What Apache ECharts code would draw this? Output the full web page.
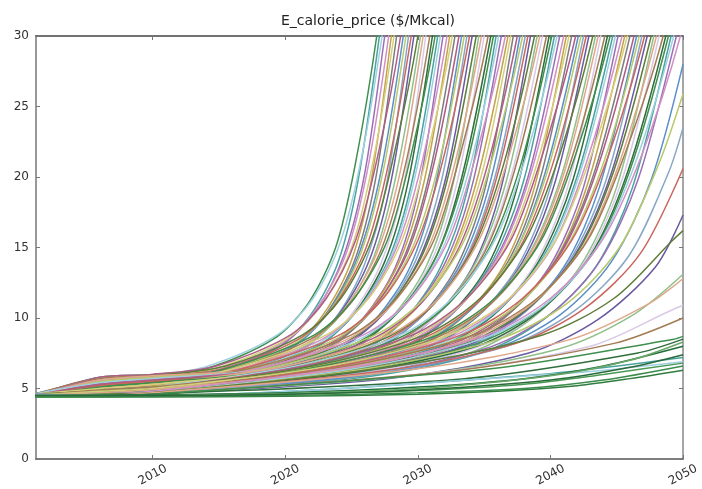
<!DOCTYPE html>
<html>
<head>
<meta charset="utf-8">
<script src="https://cdn.jsdelivr.net/npm/echarts@6/dist/echarts.min.js"></script>
<style>
  html, body { margin: 0; padding: 0; background: #fff; }
  #chart { width: 702px; height: 489px; }
</style>
</head>
<body>
<div id="chart"></div>
<script>
// Simulated calorie price runs, [year, $/Mkcal] pairs. Runs that blow past 30 are clipped by the axis.
const runsA1 = [
  [[2001,4.5],[2006,5.8],[2010,6.0],[2014.0,6.4],[2019.1,8.5],[2021.7,11.0],[2023.8,15.0],[2025.3,21.0],[2026.9,30],[2028.2,40]],
  [[2001,4.6],[2006,5.6],[2010,5.9],[2014.2,6.6],[2019.4,8.8],[2022.1,11.4],[2024.2,15.5],[2025.8,21.6],[2027.3,30],[2028.7,40]],
  [[2001,4.4],[2006,5.7],[2010,5.9],[2014.4,6.2],[2019.7,8.2],[2022.4,10.7],[2024.6,14.6],[2026.2,20.5],[2027.8,30],[2029.1,40]],
  [[2001,4.5],[2006,5.4],[2010,5.7],[2014.6,6.4],[2020.1,8.5],[2022.8,11.0],[2025.0,15.0],[2026.6,21.0],[2028.2,30],[2029.6,40]],
  [[2001,4.5],[2006,5.8],[2010,6.0],[2014.8,6.6],[2020.4,8.8],[2023.1,11.4],[2025.3,15.5],[2027.0,21.6],[2028.7,30],[2030.0,40]],
  [[2001,4.6],[2006,5.3],[2010,5.6],[2015.1,6.2],[2020.7,8.2],[2023.5,10.7],[2025.7,14.6],[2027.4,20.5],[2029.1,30],[2030.5,40]],
  [[2001,4.4],[2006,5.5],[2010,5.8],[2015.3,6.4],[2021.0,8.5],[2023.8,11.0],[2026.1,15.0],[2027.8,21.0],[2029.5,30],[2031.0,40]],
  [[2001,4.5],[2006,5.6],[2010,5.9],[2015.5,6.6],[2021.3,8.8],[2024.2,11.4],[2026.5,15.5],[2028.2,21.6],[2030.0,30],[2031.4,40]],
  [[2001,4.5],[2006,5.2],[2010,5.5],[2015.7,6.2],[2021.6,8.2],[2024.5,10.7],[2026.9,14.6],[2028.7,20.5],[2030.4,30],[2031.9,40]],
  [[2001,4.6],[2006,5.7],[2010,5.9],[2015.9,6.4],[2021.9,8.5],[2024.9,11.0],[2027.3,15.0],[2029.1,21.0],[2030.9,30],[2032.4,40]],
  [[2001,4.4],[2006,5.0],[2010,5.3],[2016.2,6.6],[2022.2,8.8],[2025.2,11.4],[2027.7,15.5],[2029.5,21.6],[2031.3,30],[2032.8,40]],
  [[2001,4.5],[2006,5.4],[2010,5.7],[2016.4,6.2],[2022.5,8.2],[2025.6,10.7],[2028.1,14.6],[2029.9,20.5],[2031.7,30],[2033.3,40]],
  [[2001,4.5],[2006,5.6],[2010,5.8],[2016.6,6.4],[2022.8,8.5],[2025.9,11.0],[2028.4,15.0],[2030.3,21.0],[2032.2,30],[2033.7,40]],
  [[2001,4.6],[2006,4.9],[2010,5.2],[2016.8,6.6],[2023.1,8.8],[2026.3,11.4],[2028.8,15.5],[2030.7,21.6],[2032.6,30],[2034.2,40]],
  [[2001,4.4],[2006,5.3],[2010,5.6],[2017.0,6.2],[2023.4,8.2],[2026.6,10.7],[2029.2,14.6],[2031.1,20.5],[2033.1,30],[2034.7,40]],
  [[2001,4.5],[2006,5.5],[2010,5.8],[2017.3,6.4],[2023.8,8.5],[2027.0,11.0],[2029.6,15.0],[2031.6,21.0],[2033.5,30],[2035.1,40]],
  [[2001,4.5],[2006,4.8],[2010,5.1],[2017.5,6.6],[2024.1,8.8],[2027.4,11.4],[2030.0,15.5],[2032.0,21.6],[2033.9,30],[2035.6,40]],
  [[2001,4.6],[2006,5.2],[2010,5.5],[2017.7,6.2],[2024.4,8.2],[2027.7,10.7],[2030.4,14.6],[2032.4,20.5],[2034.4,30],[2036.1,40]]
];

const runsA2 = [
  [[2001,4.4],[2006,5.6],[2010,5.9],[2017.9,6.4],[2024.7,8.5],[2028.1,11.0],[2030.8,15.0],[2032.8,21.0],[2034.8,30],[2036.5,40]],
  [[2001,4.5],[2006,4.9],[2010,5.2],[2018.1,6.6],[2025.0,8.8],[2028.4,11.4],[2031.2,15.5],[2033.2,21.6],[2035.3,30],[2037.0,40]],
  [[2001,4.5],[2006,5.1],[2010,5.4],[2018.4,6.2],[2025.3,8.2],[2028.8,10.7],[2031.5,14.6],[2033.6,20.5],[2035.7,30],[2037.4,40]],
  [[2001,4.6],[2006,5.4],[2010,5.7],[2018.6,6.4],[2025.6,8.5],[2029.1,11.0],[2031.9,15.0],[2034.0,21.0],[2036.1,30],[2037.9,40]],
  [[2001,4.4],[2006,4.7],[2010,5.0],[2018.8,6.6],[2025.9,8.8],[2029.5,11.4],[2032.3,15.5],[2034.4,21.6],[2036.6,30],[2038.4,40]],
  [[2001,4.5],[2006,5.0],[2010,5.3],[2019.0,6.2],[2026.2,8.2],[2029.8,10.7],[2032.7,14.6],[2034.9,20.5],[2037.0,30],[2038.8,40]],
  [[2001,4.5],[2006,5.3],[2010,5.6],[2019.2,6.4],[2026.5,8.5],[2030.2,11.0],[2033.1,15.0],[2035.3,21.0],[2037.5,30],[2039.3,40]],
  [[2001,4.6],[2006,4.8],[2010,5.1],[2019.5,6.6],[2026.8,8.8],[2030.5,11.4],[2033.5,15.5],[2035.7,21.6],[2037.9,30],[2039.7,40]],
  [[2001,4.4],[2006,5.2],[2010,5.5],[2019.7,6.2],[2027.1,8.2],[2030.9,10.7],[2033.9,14.6],[2036.1,20.5],[2038.3,30],[2040.2,40]],
  [[2001,4.5],[2006,4.7],[2010,5.0],[2019.9,6.4],[2027.4,8.5],[2031.2,11.0],[2034.2,15.0],[2036.5,21.0],[2038.8,30],[2040.7,40]],
  [[2001,4.5],[2006,5.0],[2010,5.3],[2020.1,6.6],[2027.8,8.8],[2031.6,11.4],[2034.6,15.5],[2036.9,21.6],[2039.2,30],[2041.1,40]],
  [[2001,4.6],[2006,4.6],[2010,4.9],[2020.3,6.2],[2028.1,8.2],[2031.9,10.7],[2035.0,14.6],[2037.3,20.5],[2039.7,30],[2041.6,40]],
  [[2001,4.4],[2006,5.1],[2010,5.4],[2020.6,6.4],[2028.4,8.5],[2032.3,11.0],[2035.4,15.0],[2037.8,21.0],[2040.1,30],[2042.1,40]],
  [[2001,4.5],[2006,4.8],[2010,5.1],[2020.8,6.6],[2028.7,8.8],[2032.6,11.4],[2035.8,15.5],[2038.2,21.6],[2040.5,30],[2042.5,40]],
  [[2001,4.5],[2006,4.6],[2010,4.9],[2021.0,6.2],[2029.0,8.2],[2033.0,10.7],[2036.2,14.6],[2038.6,20.5],[2041.0,30],[2043.0,40]],
  [[2001,4.6],[2006,5.0],[2010,5.3],[2021.2,6.4],[2029.3,8.5],[2033.3,11.0],[2036.6,15.0],[2039.0,21.0],[2041.4,30],[2043.4,40]],
  [[2001,4.4],[2006,4.7],[2010,5.0],[2021.4,6.6],[2029.6,8.8],[2033.7,11.4],[2037.0,15.5],[2039.4,21.6],[2041.9,30],[2043.9,40]],
  [[2001,4.5],[2006,4.9],[2010,5.1],[2021.7,6.2],[2029.9,8.2],[2034.0,10.7],[2037.3,14.6],[2039.8,20.5],[2042.3,30],[2044.4,40]]
];

const runsA3 = [
  [[2001,4.5],[2006,4.6],[2010,4.8],[2021.9,6.4],[2030.2,8.5],[2034.4,11.0],[2037.7,15.0],[2040.2,21.0],[2042.7,30],[2044.8,40]],
  [[2001,4.6],[2006,4.8],[2010,5.0],[2022.1,6.6],[2030.5,8.8],[2034.7,11.4],[2038.1,15.5],[2040.7,21.6],[2043.2,30],[2045.3,40]],
  [[2001,4.4],[2006,4.6],[2010,4.8],[2022.3,6.2],[2030.8,8.2],[2035.1,10.7],[2038.5,14.6],[2041.1,20.5],[2043.6,30],[2045.8,40]],
  [[2001,4.5],[2006,4.9],[2010,5.1],[2022.5,6.4],[2031.1,8.5],[2035.5,11.0],[2038.9,15.0],[2041.5,21.0],[2044.1,30],[2046.2,40]],
  [[2001,4.5],[2006,4.5],[2010,4.7],[2022.8,6.6],[2031.5,8.8],[2035.8,11.4],[2039.3,15.5],[2041.9,21.6],[2044.5,30],[2046.7,40]],
  [[2001,4.6],[2006,4.7],[2010,4.9],[2023.0,6.2],[2031.8,8.2],[2036.2,10.7],[2039.7,14.6],[2042.3,20.5],[2044.9,30],[2047.1,40]],
  [[2001,4.4],[2006,4.6],[2010,4.8],[2023.2,6.4],[2032.1,8.5],[2036.5,11.0],[2040.1,15.0],[2042.7,21.0],[2045.4,30],[2047.6,40]],
  [[2001,4.5],[2006,4.8],[2010,5.0],[2023.4,6.6],[2032.4,8.8],[2036.9,11.4],[2040.4,15.5],[2043.1,21.6],[2045.8,30],[2048.1,40]],
  [[2001,4.5],[2006,4.5],[2010,4.7],[2023.6,6.2],[2032.7,8.2],[2037.2,10.7],[2040.8,14.6],[2043.5,20.5],[2046.3,30],[2048.5,40]],
  [[2001,4.6],[2006,4.7],[2010,4.9],[2023.9,6.4],[2033.0,8.5],[2037.6,11.0],[2041.2,15.0],[2044.0,21.0],[2046.7,30],[2049.0,40]],
  [[2001,4.4],[2006,4.6],[2010,4.8],[2024.1,6.6],[2033.3,8.8],[2037.9,11.4],[2041.6,15.5],[2044.4,21.6],[2047.1,30],[2049.5,40]],
  [[2001,4.5],[2006,4.5],[2010,4.7],[2024.3,6.2],[2033.6,8.2],[2038.3,10.7],[2042.0,14.6],[2044.8,20.5],[2047.6,30],[2049.9,40]],
  [[2001,4.5],[2006,4.7],[2010,4.9],[2024.5,6.4],[2033.9,8.5],[2038.6,11.0],[2042.4,15.0],[2045.2,21.0],[2048.0,30],[2050.4,40]],
  [[2001,4.6],[2006,4.5],[2010,4.7],[2024.7,6.6],[2034.2,8.8],[2039.0,11.4],[2042.8,15.5],[2045.6,21.6],[2048.5,30],[2050.8,40]],
  [[2001,4.4],[2006,4.6],[2010,4.8],[2025.0,6.2],[2034.5,8.2],[2039.3,10.7],[2043.2,14.6],[2046.0,20.5],[2048.9,30],[2051.3,40]],
  [[2001,4.5],[2006,4.5],[2010,4.7],[2025.2,6.4],[2034.8,8.5],[2039.7,11.0],[2043.5,15.0],[2046.4,21.0],[2049.3,30],[2051.8,40]],
  [[2001,4.5],[2006,4.6],[2010,4.8],[2025.4,6.6],[2035.2,8.8],[2040.0,11.4],[2043.9,15.5],[2046.9,21.6],[2049.8,30],[2052.2,40]]
];

const runsB1 = [
  [[2001,4.5],[2006,5.5],[2010,5.7],[2014.1,5.9],[2019.3,7.8],[2021.9,10.2],[2024.0,14.0],[2025.5,19.8],[2027.1,30],[2028.4,40]],
  [[2001,4.6],[2006,5.2],[2010,5.4],[2014.3,6.1],[2019.6,8.0],[2022.3,10.5],[2024.4,14.4],[2026.0,20.3],[2027.5,30],[2028.9,40]],
  [[2001,4.4],[2006,5.3],[2010,5.5],[2014.5,5.7],[2019.9,7.5],[2022.6,9.9],[2024.8,13.6],[2026.4,19.3],[2028.0,30],[2029.3,40]],
  [[2001,4.5],[2006,5.6],[2010,5.7],[2014.7,5.9],[2020.3,7.8],[2023.0,10.2],[2025.2,14.0],[2026.8,19.8],[2028.4,30],[2029.8,40]],
  [[2001,4.5],[2006,5.0],[2010,5.2],[2014.9,6.1],[2020.6,8.0],[2023.3,10.5],[2025.5,14.4],[2027.2,20.3],[2028.9,30],[2030.2,40]],
  [[2001,4.6],[2006,5.4],[2010,5.5],[2015.2,5.7],[2020.9,7.5],[2023.7,9.9],[2025.9,13.6],[2027.6,19.3],[2029.3,30],[2030.7,40]],
  [[2001,4.4],[2006,5.1],[2010,5.3],[2015.4,5.9],[2021.2,7.8],[2024.0,10.2],[2026.3,14.0],[2028.0,19.8],[2029.7,30],[2031.2,40]],
  [[2001,4.5],[2006,5.5],[2010,5.7],[2015.6,6.1],[2021.5,8.0],[2024.4,10.5],[2026.7,14.4],[2028.4,20.3],[2030.2,30],[2031.6,40]],
  [[2001,4.5],[2006,4.9],[2010,5.1],[2015.8,5.7],[2021.8,7.5],[2024.7,9.9],[2027.1,13.6],[2028.9,19.3],[2030.6,30],[2032.1,40]],
  [[2001,4.6],[2006,5.3],[2010,5.5],[2016.0,5.9],[2022.1,7.8],[2025.1,10.2],[2027.5,14.0],[2029.3,19.8],[2031.1,30],[2032.6,40]],
  [[2001,4.4],[2006,4.8],[2010,5.1],[2016.3,6.1],[2022.4,8.0],[2025.4,10.5],[2027.9,14.4],[2029.7,20.3],[2031.5,30],[2033.0,40]],
  [[2001,4.5],[2006,5.2],[2010,5.4],[2016.5,5.7],[2022.7,7.5],[2025.8,9.9],[2028.3,13.6],[2030.1,19.3],[2031.9,30],[2033.5,40]],
  [[2001,4.5],[2006,4.7],[2010,5.0],[2016.7,5.9],[2023.0,7.8],[2026.1,10.2],[2028.6,14.0],[2030.5,19.8],[2032.4,30],[2033.9,40]],
  [[2001,4.6],[2006,5.3],[2010,5.5],[2016.9,6.1],[2023.3,8.0],[2026.5,10.5],[2029.0,14.4],[2030.9,20.3],[2032.8,30],[2034.4,40]],
  [[2001,4.4],[2006,4.6],[2010,4.9],[2017.1,5.7],[2023.6,7.5],[2026.8,9.9],[2029.4,13.6],[2031.3,19.3],[2033.3,30],[2034.9,40]],
  [[2001,4.5],[2006,5.0],[2010,5.2],[2017.4,5.9],[2024.0,7.8],[2027.2,10.2],[2029.8,14.0],[2031.8,19.8],[2033.7,30],[2035.3,40]],
  [[2001,4.5],[2006,4.8],[2010,5.0],[2017.6,6.1],[2024.3,8.0],[2027.6,10.5],[2030.2,14.4],[2032.2,20.3],[2034.1,30],[2035.8,40]],
  [[2001,4.6],[2006,4.6],[2010,4.8],[2017.8,5.7],[2024.6,7.5],[2027.9,9.9],[2030.6,13.6],[2032.6,19.3],[2034.6,30],[2036.3,40]]
];

const runsB2 = [
  [[2001,4.4],[2006,5.1],[2010,5.3],[2018.0,5.9],[2024.9,7.8],[2028.3,10.2],[2031.0,14.0],[2033.0,19.8],[2035.0,30],[2036.7,40]],
  [[2001,4.5],[2006,4.7],[2010,5.0],[2018.2,6.1],[2025.2,8.0],[2028.6,10.5],[2031.4,14.4],[2033.4,20.3],[2035.5,30],[2037.2,40]],
  [[2001,4.5],[2006,4.9],[2010,5.1],[2018.5,5.7],[2025.5,7.5],[2029.0,9.9],[2031.7,13.6],[2033.8,19.3],[2035.9,30],[2037.6,40]],
  [[2001,4.6],[2006,4.6],[2010,4.9],[2018.7,5.9],[2025.8,7.8],[2029.3,10.2],[2032.1,14.0],[2034.2,19.8],[2036.3,30],[2038.1,40]],
  [[2001,4.4],[2006,5.0],[2010,5.2],[2018.9,6.1],[2026.1,8.0],[2029.7,10.5],[2032.5,14.4],[2034.6,20.3],[2036.8,30],[2038.6,40]],
  [[2001,4.5],[2006,4.6],[2010,4.8],[2019.1,5.7],[2026.4,7.5],[2030.0,9.9],[2032.9,13.6],[2035.1,19.3],[2037.2,30],[2039.0,40]],
  [[2001,4.5],[2006,4.8],[2010,5.1],[2019.3,5.9],[2026.7,7.8],[2030.4,10.2],[2033.3,14.0],[2035.5,19.8],[2037.7,30],[2039.5,40]],
  [[2001,4.6],[2006,4.5],[2010,4.7],[2019.6,6.1],[2027.0,8.0],[2030.7,10.5],[2033.7,14.4],[2035.9,20.3],[2038.1,30],[2039.9,40]],
  [[2001,4.4],[2006,4.9],[2010,5.1],[2019.8,5.7],[2027.3,7.5],[2031.1,9.9],[2034.1,13.6],[2036.3,19.3],[2038.5,30],[2040.4,40]],
  [[2001,4.5],[2006,4.6],[2010,4.8],[2020.0,5.9],[2027.6,7.8],[2031.4,10.2],[2034.4,14.0],[2036.7,19.8],[2039.0,30],[2040.9,40]],
  [[2001,4.5],[2006,4.7],[2010,5.0],[2020.2,6.1],[2028.0,8.0],[2031.8,10.5],[2034.8,14.4],[2037.1,20.3],[2039.4,30],[2041.3,40]],
  [[2001,4.6],[2006,4.5],[2010,4.7],[2020.4,5.7],[2028.3,7.5],[2032.1,9.9],[2035.2,13.6],[2037.5,19.3],[2039.9,30],[2041.8,40]],
  [[2001,4.4],[2006,4.8],[2010,5.0],[2020.7,5.9],[2028.6,7.8],[2032.5,10.2],[2035.6,14.0],[2038.0,19.8],[2040.3,30],[2042.3,40]],
  [[2001,4.5],[2006,4.5],[2010,4.7],[2020.9,6.1],[2028.9,8.0],[2032.8,10.5],[2036.0,14.4],[2038.4,20.3],[2040.7,30],[2042.7,40]],
  [[2001,4.5],[2006,4.7],[2010,4.9],[2021.1,5.7],[2029.2,7.5],[2033.2,9.9],[2036.4,13.6],[2038.8,19.3],[2041.2,30],[2043.2,40]],
  [[2001,4.6],[2006,4.5],[2010,4.6],[2021.3,5.9],[2029.5,7.8],[2033.5,10.2],[2036.8,14.0],[2039.2,19.8],[2041.6,30],[2043.6,40]],
  [[2001,4.4],[2006,4.6],[2010,4.8],[2021.5,6.1],[2029.8,8.0],[2033.9,10.5],[2037.2,14.4],[2039.6,20.3],[2042.1,30],[2044.1,40]],
  [[2001,4.5],[2006,4.5],[2010,4.7],[2021.8,5.7],[2030.1,7.5],[2034.2,9.9],[2037.5,13.6],[2040.0,19.3],[2042.5,30],[2044.6,40]]
];

const runsB3 = [
  [[2001,4.5],[2006,4.7],[2010,4.9],[2022.0,5.9],[2030.4,7.8],[2034.6,10.2],[2037.9,14.0],[2040.4,19.8],[2042.9,30],[2045.0,40]],
  [[2001,4.6],[2006,4.5],[2010,4.6],[2022.2,6.1],[2030.7,8.0],[2034.9,10.5],[2038.3,14.4],[2040.9,20.3],[2043.4,30],[2045.5,40]],
  [[2001,4.4],[2006,4.5],[2010,4.7],[2022.4,5.7],[2031.0,7.5],[2035.3,9.9],[2038.7,13.6],[2041.3,19.3],[2043.8,30],[2046.0,40]],
  [[2001,4.5],[2006,4.6],[2010,4.8],[2022.6,5.9],[2031.3,7.8],[2035.7,10.2],[2039.1,14.0],[2041.7,19.8],[2044.3,30],[2046.4,40]],
  [[2001,4.5],[2006,4.5],[2010,4.6],[2022.9,6.1],[2031.7,8.0],[2036.0,10.5],[2039.5,14.4],[2042.1,20.3],[2044.7,30],[2046.9,40]],
  [[2001,4.6],[2006,4.6],[2010,4.7],[2023.1,5.7],[2032.0,7.5],[2036.4,9.9],[2039.9,13.6],[2042.5,19.3],[2045.1,30],[2047.3,40]],
  [[2001,4.4],[2006,4.4],[2010,4.6],[2023.3,5.9],[2032.3,7.8],[2036.7,10.2],[2040.3,14.0],[2042.9,19.8],[2045.6,30],[2047.8,40]],
  [[2001,4.5],[2006,4.6],[2010,4.7],[2023.5,6.1],[2032.6,8.0],[2037.1,10.5],[2040.6,14.4],[2043.3,20.3],[2046.0,30],[2048.3,40]],
  [[2001,4.5],[2006,4.5],[2010,4.6],[2023.7,5.7],[2032.9,7.5],[2037.4,9.9],[2041.0,13.6],[2043.7,19.3],[2046.5,30],[2048.7,40]],
  [[2001,4.6],[2006,4.5],[2010,4.7],[2024.0,5.9],[2033.2,7.8],[2037.8,10.2],[2041.4,14.0],[2044.2,19.8],[2046.9,30],[2049.2,40]],
  [[2001,4.4],[2006,4.5],[2010,4.6],[2024.2,6.1],[2033.5,8.0],[2038.1,10.5],[2041.8,14.4],[2044.6,20.3],[2047.3,30],[2049.7,40]],
  [[2001,4.5],[2006,4.6],[2010,4.7],[2024.4,5.7],[2033.8,7.5],[2038.5,9.9],[2042.2,13.6],[2045.0,19.3],[2047.8,30],[2050.1,40]],
  [[2001,4.5],[2006,4.4],[2010,4.6],[2024.6,5.9],[2034.1,7.8],[2038.8,10.2],[2042.6,14.0],[2045.4,19.8],[2048.2,30],[2050.6,40]],
  [[2001,4.6],[2006,4.5],[2010,4.7],[2024.8,6.1],[2034.4,8.0],[2039.2,10.5],[2043.0,14.4],[2045.8,20.3],[2048.7,30],[2051.0,40]],
  [[2001,4.4],[2006,4.5],[2010,4.6],[2025.1,5.7],[2034.7,7.5],[2039.5,9.9],[2043.4,13.6],[2046.2,19.3],[2049.1,30],[2051.5,40]],
  [[2001,4.5],[2006,4.5],[2010,4.6],[2025.3,5.9],[2035.0,7.8],[2039.9,10.2],[2043.7,14.0],[2046.6,19.8],[2049.5,30],[2052.0,40]]
];

// Runs still below the 30 ceiling in 2050
const runsSlow = [
  [[2001,4.5],[2006,4.5],[2010,4.6],[2025.8,5.9],[2035.7,7.8],[2040.7,10.2],[2044.6,14.0],[2047.6,19.8],[2050,28.0]],
  [[2001,4.5],[2006,4.6],[2010,4.7],[2026.1,6.4],[2036.1,8.5],[2041.2,11.0],[2045.2,15.0],[2048.2,21.0],[2050,25.9]],
  [[2001,4.4],[2006,4.5],[2010,4.6],[2026.5,6.1],[2036.7,8.0],[2041.8,10.5],[2045.9,14.4],[2048.9,20.3],[2050,23.5]],
  [[2001,4.5],[2006,4.5],[2010,4.7],[2027.0,6.2],[2037.4,8.2],[2042.6,10.7],[2046.8,14.6],[2050,20.6]],
  [[2001,4.6],[2006,4.5],[2010,4.6],[2027.7,5.7],[2038.3,7.5],[2043.6,9.9],[2047.9,13.6],[2050,17.3]],
  [[2001,4.4],[2006,4.6],[2010,4.7],[2028.4,6.6],[2039.4,8.8],[2044.8,11.4],[2049.2,15.5],[2050,16.2]],
  [[2001,4.5],[2006,4.5],[2010,4.6],[2029.3,5.9],[2040.6,7.8],[2046.2,10.2],[2050,13.1]],
  [[2001,4.5],[2006,4.5],[2010,4.7],[2030.0,6.4],[2041.6,8.5],[2047.4,11.0],[2050,12.8]],
  [[2001,4.6],[2006,4.5],[2010,4.6],[2031.0,6.1],[2043.0,8.0],[2049.0,10.5],[2050,10.9]],
  [[2001,4.4],[2006,4.5],[2010,4.6],[2032.3,6.2],[2044.8,8.2],[2050,10.0]],
  [[2001,4.5],[2006,4.5],[2010,4.6],[2033.5,5.7],[2046.5,7.5],[2050,8.5]],
  [[2001,4.5],[2006,4.5],[2010,4.6],[2035.5,6.4],[2049.3,8.5],[2050,8.7]],
  [[2001,4.4],[2006,4.5],[2010,4.5],[2038.0,5.9],[2050,7.2]],
  [[2001,4.5],[2006,4.5],[2010,4.5],[2041.5,6.1],[2050,6.9]]
];

const runsLow = [
  [[2001,4.4],[2010,4.4],[2020,4.45],[2030,4.6],[2036,4.8],[2042,5.2],[2046,5.7],[2050,6.3]],
  [[2001,4.45],[2010,4.5],[2020,4.6],[2030,4.85],[2038,5.3],[2044,6.0],[2050,6.8]],
  [[2001,4.5],[2010,4.55],[2020,4.7],[2030,5.1],[2038,5.7],[2044,6.6],[2050,8.0]],
  [[2001,4.4],[2010,4.5],[2020,4.65],[2030,5.0],[2040,5.9],[2046,7.0],[2050,8.3]],
  [[2001,4.4],[2010,4.45],[2020,4.5],[2030,4.7],[2038,5.0],[2044,5.6],[2050,6.6]],
  [[2001,4.5],[2010,4.5],[2020,4.6],[2030,4.9],[2040,5.6],[2046,6.5],[2050,7.4]]
];

const xTickYears = [2010, 2020, 2030, 2040, 2050];
const yMax = 30;
const yStep = 5;

// Line colours, cycled through the runs
const palette = [
  '#3f8f4f', '#9b6fb5', '#d4cf7a', '#5a8fc8', '#c9665f', '#8fbf8a', '#a47c54',
  '#49a3a0', '#d08fc6', '#7d7d7d', '#b7c96b', '#6a5aa0', '#e0a88a', '#2f6e3c',
  '#9fd0e0', '#c4a24a', '#b05c88', '#87a7c7', '#5e7d3a', '#d9c9e6'
];
const lowGreens = ['#2f7d3f', '#4a9a55', '#1f6e3a', '#6aa86a', '#3c8c4c', '#2a6a3a'];

function lineSeries(run, color) {
  return {
    type: 'line',
    data: run,
    showSymbol: false,
    smooth: 0.3,
    clip: true,
    silent: true,
    lineStyle: { width: 1.5, color: color }
  };
}

// interleave the two families so neither sits entirely on top
const famA = [...runsA1, ...runsA2, ...runsA3];
const famB = [...runsB1, ...runsB2, ...runsB3];
const fastRuns = [];
for (let i = 0; i < Math.max(famA.length, famB.length); i++) {
  if (famA[i]) fastRuns.push(famA[i]);
  if (famB[i]) fastRuns.push(famB[i]);
}

const series = fastRuns.map((run, i) => lineSeries(run, palette[(i * 7) % palette.length]))
  .concat(runsSlow.map((run, i) => lineSeries(run, palette[(i * 7 + 3) % palette.length])))
  .concat(runsLow.map((run, i) => lineSeries(run, lowGreens[i % lowGreens.length])));

const font = 'DejaVu Sans';
const chart = echarts.init(document.getElementById('chart'), null, { renderer: 'canvas' });
chart.setOption({
  animation: false,
  backgroundColor: '#ffffff',
  title: {
    text: 'E_calorie_price ($/Mkcal)',
    left: 363,
    top: 9,
    textAlign: 'center',
    textStyle: { fontFamily: font, fontSize: 14, fontWeight: 'normal', color: '#222' }
  },
  grid: { left: 36, right: 15, top: 36, bottom: 30, containLabel: false },
  xAxis: [
    {
      type: 'value', position: 'bottom', min: 2001.2, max: 2050,
      axisLine: { show: true, onZero: false, lineStyle: { color: '#555', width: 1.5 } },
      axisTick: { show: true, inside: true, length: 4, customValues: xTickYears, lineStyle: { color: '#777' } },
      axisLabel: {
        customValues: xTickYears, rotate: 28, align: 'center', verticalAlign: 'middle', margin: 16,
        fontFamily: font, fontSize: 12, color: '#333', formatter: v => String(v)
      },
      splitLine: { show: false }
    },
    {
      type: 'value', position: 'top', min: 2001.2, max: 2050,
      axisLine: { show: true, onZero: false, lineStyle: { color: '#444', width: 1.5 } },
      axisTick: { show: true, inside: true, length: 4, customValues: xTickYears, lineStyle: { color: '#777' } },
      axisLabel: { show: false },
      splitLine: { show: false }
    }
  ],
  yAxis: [
    {
      type: 'value', position: 'left', min: 0, max: yMax, interval: yStep,
      axisLine: { show: true, onZero: false, lineStyle: { color: '#999', width: 2 } },
      axisTick: { show: true, inside: true, length: 4, lineStyle: { color: '#777' } },
      axisLabel: { margin: 7, fontFamily: font, fontSize: 12, color: '#333' },
      splitLine: { show: false }
    },
    {
      type: 'value', position: 'right', min: 0, max: yMax, interval: yStep,
      axisLine: { show: true, onZero: false, lineStyle: { color: '#888', width: 1.5 } },
      axisTick: { show: true, inside: true, length: 4, lineStyle: { color: '#777' } },
      axisLabel: { show: false },
      splitLine: { show: false }
    }
  ],
  series: series
});
</script>
</body>
</html>
